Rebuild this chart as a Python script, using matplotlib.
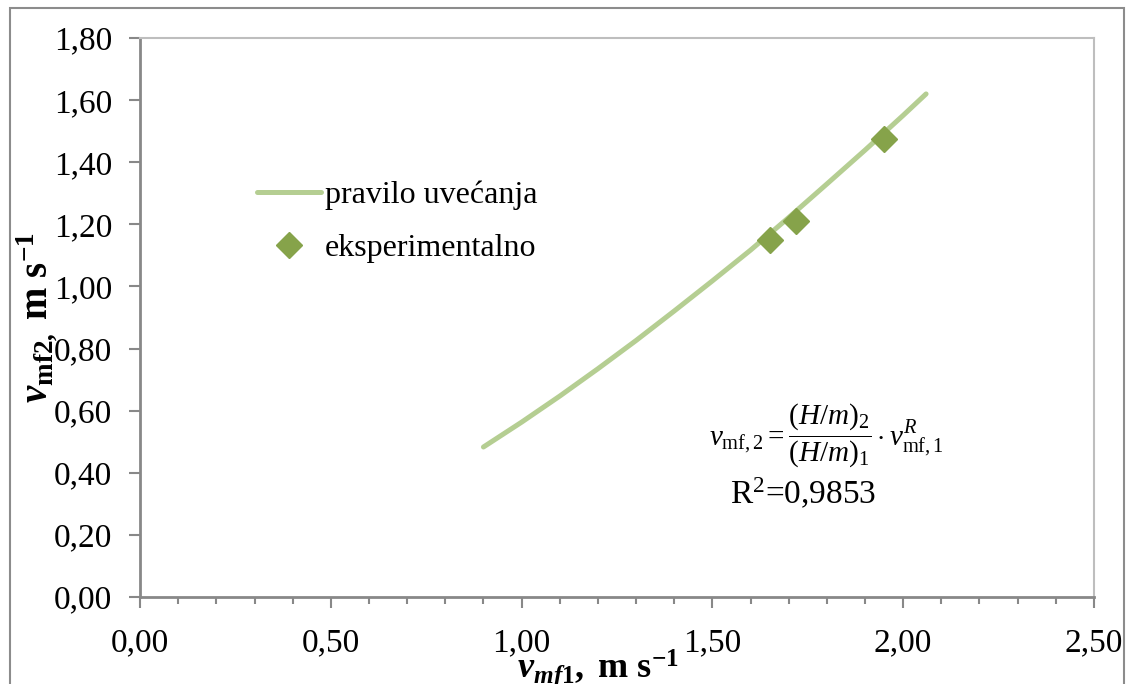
import numpy as np
import matplotlib.pyplot as plt
from matplotlib.patches import Rectangle
from matplotlib.ticker import MultipleLocator, FuncFormatter

plt.rcParams['font.family'] = ['Liberation Serif', 'DejaVu Serif']
plt.rcParams['mathtext.fontset'] = 'custom'
plt.rcParams['mathtext.rm'] = 'Liberation Serif'
plt.rcParams['mathtext.it'] = 'Liberation Serif:italic'
plt.rcParams['mathtext.bf'] = 'Liberation Serif:bold'
plt.rcParams['mathtext.bfit'] = 'Liberation Serif:italic:bold'

# pravilo uvecanja (curve)
v1_curve = [0.90, 1.00, 1.10, 1.20, 1.30, 1.40, 1.50, 1.60, 1.70, 1.80, 1.90, 2.00, 2.06]
v2_curve = [0.483, 0.563, 0.647, 0.735, 0.826, 0.921, 1.018, 1.117, 1.222, 1.330, 1.439, 1.551, 1.620]

# eksperimentalno
v1_exp = [1.65, 1.72, 1.95]
v2_exp = [1.15, 1.21, 1.475]

line_color = '#B5CE92'
marker_color = '#86A34A'
axis_gray = '#888888'
frame_gray = '#BEBEBE'

fig = plt.figure(figsize=(11.32, 6.84), dpi=100)
ax = fig.add_axes([0.1237, 0.1272, 0.8427, 0.8172])

ax.plot(v1_curve, v2_curve, color=line_color, lw=3.6, solid_capstyle='round',
        label='pravilo uvećanja')
ax.plot(v1_exp, v2_exp, linestyle='none', marker='D', ms=13, color=marker_color,
        label='eksperimentalno')

ax.set_xlim(0, 2.5)
ax.set_ylim(0, 1.8)
ax.xaxis.set_major_locator(MultipleLocator(0.5))
ax.xaxis.set_minor_locator(MultipleLocator(0.1))
ax.yaxis.set_major_locator(MultipleLocator(0.2))
fmt = FuncFormatter(lambda v, p: f'{v:.2f}'.replace('.', ','))
ax.xaxis.set_major_formatter(fmt)
ax.yaxis.set_major_formatter(fmt)

ax.tick_params(axis='both', which='major', direction='out', length=8, width=1.5,
               color=axis_gray, labelsize=24)
ax.tick_params(axis='x', which='minor', direction='out', length=5, width=1.5, color=axis_gray)
ax.tick_params(axis='x', which='major', pad=14)
ax.tick_params(axis='y', which='major', pad=12)

for s in ['left', 'bottom']:
    ax.spines[s].set_color(axis_gray)
    ax.spines[s].set_linewidth(2)
for s in ['top', 'right']:
    ax.spines[s].set_color(frame_gray)
    ax.spines[s].set_linewidth(1.5)

ax.set_ylabel(r'$\mathbfit{v}_{\mathbf{mf2,}}$$\mathbf{\ m\ s^{-1}}$', fontsize=28)
ax.yaxis.set_label_coords(-0.085, 0.5)
ax.set_xlabel(r'$\mathbfit{v}_{\mathbfit{mf}\mathbf{1}}$$\mathbf{,\ m\ s^{-1}}$', fontsize=26)
ax.xaxis.set_label_coords(0.48, -0.09)
ax.xaxis.label.set_va('top')

leg = ax.legend(loc='upper left', bbox_to_anchor=(0.093, 0.797), frameon=False,
                fontsize=23, handlelength=2.0, handletextpad=0.1, labelspacing=0.75)

ax.text(0.72, 0.29, r'$v_{\mathrm{mf,2}} = \dfrac{(H/m)_2}{(H/m)_1}\cdot v^{R}_{\mathrm{mf,1}}$',
        transform=ax.transAxes, ha='center', va='center', fontsize=21)
ax.text(0.695, 0.185, 'R$^2$=0,9853', transform=ax.transAxes, ha='center', va='center', fontsize=24)

fig.patches.append(Rectangle((10 / 1132, -0.05), 1114 / 1132, 1 - 8 / 684 + 0.05,
                             transform=fig.transFigure, fill=False, edgecolor='#8C8C8C',
                             lw=1.5, clip_on=False))

fig.savefig('out.png', dpi=100)
